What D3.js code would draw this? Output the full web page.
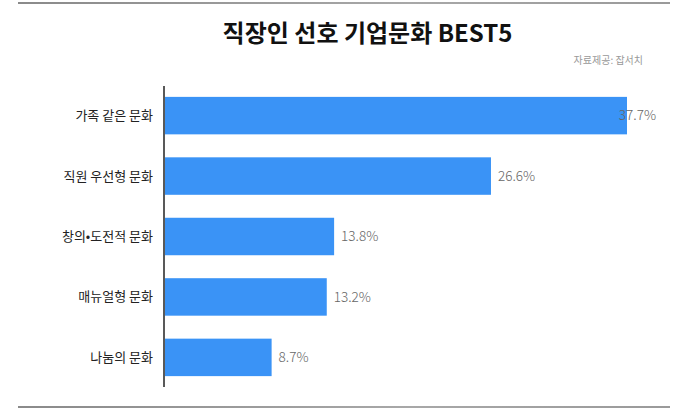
<!DOCTYPE html>
<html><head><meta charset="utf-8">
<script src="https://cdn.jsdelivr.net/npm/d3@7"></script>
<style>html,body{margin:0;padding:0;background:#fff;}svg{display:block;}</style>
</head><body>
<svg id="chart" width="700" height="409"></svg>
<script>
const categories = ["가족 같은 문화", "직원 우선형 문화", "창의•도전적 문화", "매뉴얼형 문화", "나눔의 문화"];
const values = [37.7, 26.6, 13.8, 13.2, 8.7];
const valueLabels = ["37.7%", "26.6%", "13.8%", "13.2%", "8.7%"];
const title = "직장인 선호 기업문화 BEST5";
const source = "자료제공: 잡서치";

const svg = d3.select("#chart");
const font = "'Noto Sans CJK KR', 'Noto Sans', sans-serif";

const defs = svg.append("defs");
const g1 = defs.append("linearGradient").attr("id","lg").attr("x1","0").attr("x2","1");
g1.append("stop").attr("offset","0").attr("stop-color","#8a8a8a");
g1.append("stop").attr("offset","0.6").attr("stop-color","#a8a8a8");
g1.append("stop").attr("offset","1").attr("stop-color","#9a9a9a");

svg.append("rect").attr("x",18).attr("y",2).attr("width",652).attr("height",2).attr("fill","url(#lg)");
svg.append("rect").attr("x",18).attr("y",406).attr("width",652).attr("height",2).attr("fill","url(#lg)");

svg.append("text").attr("x",367.5).attr("y",42).attr("text-anchor","middle")
  .attr("font-family",font).attr("font-weight",700).attr("font-size",24)
  .attr("fill","#111").text(title);

svg.append("text").attr("x",643).attr("y",64).attr("text-anchor","end")
  .attr("font-family",font).attr("font-size",10).attr("fill","#999").text(source);

const x0 = 165;
const x = d3.scaleLinear().domain([0, 37.7]).range([x0, 627]);
const y = d3.scaleBand().domain(categories).range([86, 387]).paddingInner(0.38).paddingOuter(0.18);

const data = categories.map((c,i)=>({c, v: values[i], l: valueLabels[i]}));

svg.selectAll("rect.bar").data(data).join("rect").attr("class","bar")
  .attr("x", x0).attr("y", d=>y(d.c)).attr("width", d=>x(d.v)-x0).attr("height", y.bandwidth())
  .attr("fill","#3a93f6");

svg.append("line").attr("x1",164).attr("x2",164).attr("y1",86).attr("y2",387)
  .attr("stroke","#222").attr("stroke-width",1.5);

svg.selectAll("text.cat").data(data).join("text").attr("class","cat")
  .attr("x",153).attr("y", d=>y(d.c)+y.bandwidth()/2).attr("dy","0.35em")
  .attr("text-anchor","end").attr("font-family",font).attr("font-size",13)
  .attr("fill","#222").text(d=>d.c);

const vl = svg.selectAll("text.val").data(data).join("text").attr("class","val")
  .attr("y", d=>y(d.c)+y.bandwidth()/2).attr("dy","0.35em")
  .attr("font-family",font).attr("font-weight",300).attr("font-size",13.5).attr("fill","#666").text(d=>d.l);
vl.each(function(d){
  const w = this.getComputedTextLength();
  let px = x(d.v) + 7;
  if (px + w > 656) px = 656 - w;
  d3.select(this).attr("x", px);
});
</script>
</body></html>
